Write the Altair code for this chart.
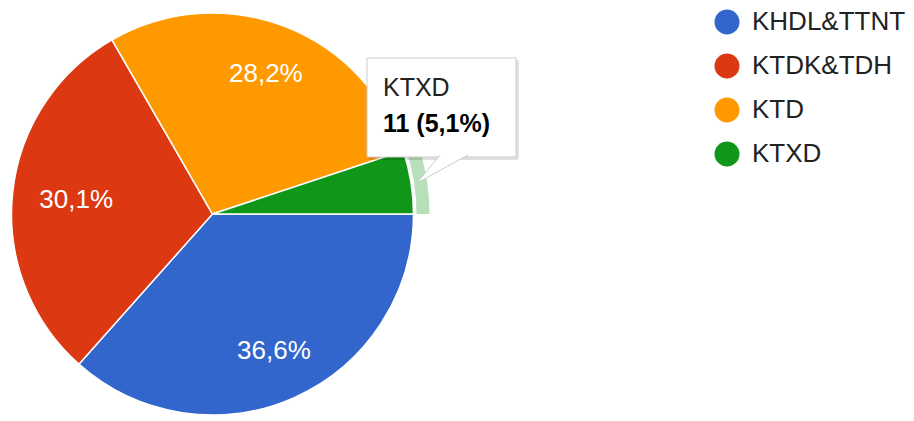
import math
import altair as alt
import pandas as pd

categories = ["KHDL&TTNT", "KTDK&TDH", "KTD", "KTXD"]
values = [79, 65, 61, 11]
colors = ["#3366cc", "#dc3912", "#ff9900", "#109618"]
highlighted = "KTXD"

total = sum(values)
pct = [f"{v / total * 100:.1f}".replace(".", ",") + "%" for v in values]
labels = [p if v / total >= 0.06 else "" for p, v in zip(pct, values)]

df = pd.DataFrame({
    "cat": categories,
    "value": values,
    "order": list(range(len(categories))),
    "pct": pct,
    "label": labels,
    "tip": [f"{v} ({p})" for v, p in zip(values, pct)],
})

CX, CY, R = 212.5, 214, 201
FONT = "Liberation Sans"

theta = alt.Theta("value:Q", stack=True,
                  scale=alt.Scale(range=[math.pi / 2, math.pi / 2 + 2 * math.pi]))
color = alt.Color(
    "cat:N",
    scale=alt.Scale(domain=categories, range=colors),
    sort=categories,
    legend=alt.Legend(
        title=None, orient="none", legendX=714, legendY=9,
        symbolType="circle", symbolSize=625, symbolStrokeWidth=0,
        labelFont=FONT, labelFontSize=26, labelColor="#222222",
        labelOffset=12, rowPadding=18, symbolOpacity=1,
    ),
)
order = alt.Order("order:Q")

base = alt.Chart(df)

pie = base.mark_arc(outerRadius=R, stroke="white", strokeWidth=1.5).encode(
    theta=theta, color=color, order=order,
    x=alt.value(CX), y=alt.value(CY),
)

ring = base.mark_arc(innerRadius=204, outerRadius=217, strokeWidth=0,
                     fill=colors[categories.index(highlighted)]).encode(
    theta=theta, order=order,
    opacity=alt.condition(alt.datum.cat == highlighted, alt.value(0.3), alt.value(0)),
    x=alt.value(CX), y=alt.value(CY),
)

text = base.mark_text(
    radius=alt.expr("datum.cat === 'KTDK&TDH' ? 137 : 150"),
    font=FONT, fontSize=26, color="white",
).encode(
    theta=theta, order=order, text="label:N",
    x=alt.value(CX), y=alt.value(CY),
)

tipdata = base.transform_filter(alt.datum.cat == highlighted)

shadow = tipdata.mark_rect(fill="#000000", opacity=0.12, cornerRadius=2).encode(
    x=alt.value(368), x2=alt.value(519), y=alt.value(60), y2=alt.value(160),
)
box = tipdata.mark_rect(fill="white", stroke="#cccccc", strokeWidth=1).encode(
    x=alt.value(367), x2=alt.value(516), y=alt.value(58), y2=alt.value(157),
)
tail = tipdata.mark_point(
    shape="M -0.096,-0.577 L -0.98,0.5 L 0.98,-0.577",
    filled=False, fill="white", fillOpacity=1, stroke="#cccccc", strokeWidth=1, opacity=1,
).encode(x=alt.value(442.5), y=alt.value(170), size=alt.value(2704))

tip1 = tipdata.mark_text(align="left", baseline="alphabetic", font=FONT,
                         fontSize=25, color="#222222").encode(
    x=alt.value(383), y=alt.value(96), text="cat:N")
tip2 = tipdata.mark_text(align="left", baseline="alphabetic", font=FONT,
                         fontSize=25, fontWeight="bold", color="#000000").encode(
    x=alt.value(383), y=alt.value(132), text="tip:N")

chart = alt.layer(ring, pie, text, shadow, box, tail, tip1, tip2).properties(
    width=914, height=421,
    autosize=alt.AutoSizeParams(type="none"),
    padding=0,
    background="white",
).configure_view(stroke=None)

chart.save("out.html", embed_options={"renderer": "svg", "actions": False})
